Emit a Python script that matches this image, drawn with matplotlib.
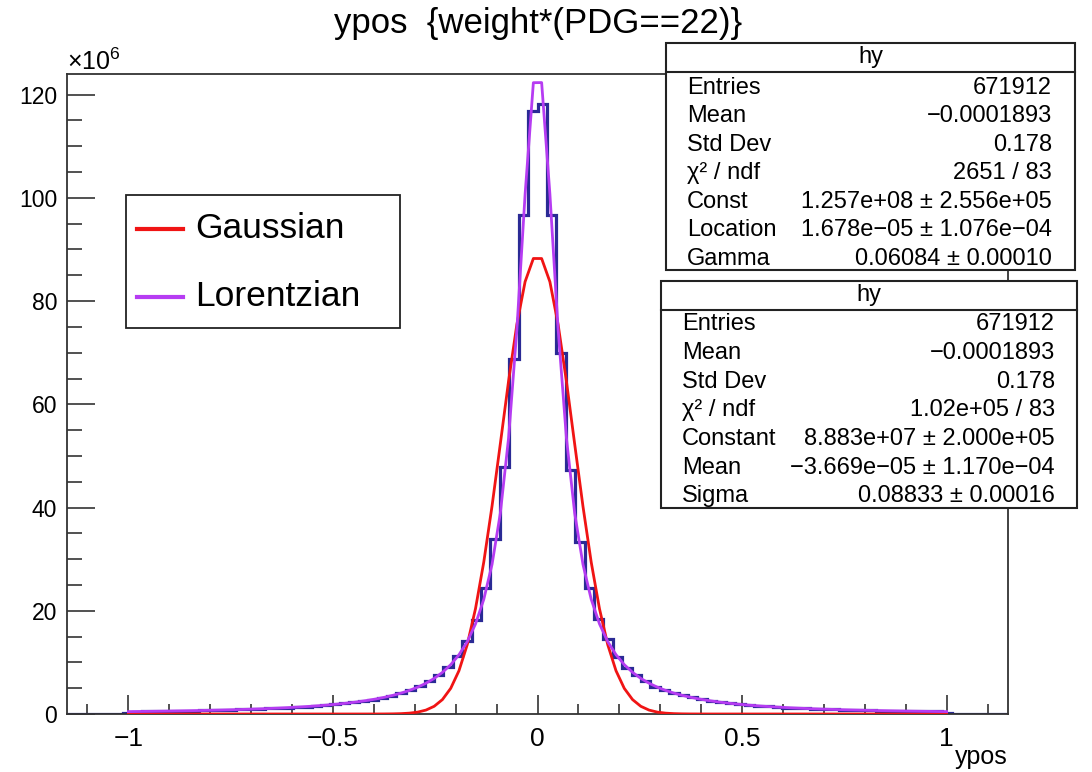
import matplotlib
matplotlib.use('Agg')
import matplotlib.pyplot as plt
from matplotlib.patches import Rectangle
from matplotlib.lines import Line2D
import numpy as np

plt.rcParams['font.family'] = ['Liberation Sans', 'DejaVu Sans']
plt.rcParams['mathtext.fontset'] = 'custom'
plt.rcParams['mathtext.rm'] = 'Liberation Sans'

# histogram: 100 bins in [-1.15, 1.15], contents in units of 1e6
xmin, xmax, nbins = -1.15, 1.15, 100
counts = [
    0, 0, 0, 0, 0, 0, 0.22,
    0.48, 0.50, 0.53, 0.56, 0.59, 0.62, 0.65, 0.69, 0.73, 0.78,
    0.83, 0.88, 0.94, 1.00, 1.07, 1.15, 1.23, 1.33, 1.44, 1.55,
    1.70, 1.85, 2.05, 2.25, 2.50, 2.80, 3.15, 3.55, 4.05, 4.60,
    5.40, 6.40, 7.50, 9.10, 11.3, 14.2, 18.2, 24.4, 33.9, 47.9,
    68.8, 96.7, 116.9,
    118.1, 96.7, 70.0, 47.3, 33.4, 24.4, 18.4, 14.6, 11.1, 8.9,
    7.6, 6.3, 5.3, 4.65, 4.1, 3.6, 3.2, 2.85, 2.55, 2.3,
    2.1, 1.9, 1.72, 1.58, 1.46, 1.35, 1.25, 1.16, 1.08, 1.01,
    0.95, 0.89, 0.84, 0.79, 0.74, 0.70, 0.66, 0.63, 0.60, 0.57,
    0.54, 0.51, 0.49,
    0.22, 0, 0, 0, 0, 0, 0,
]

# fit results (from the stats boxes)
gaus_const, gaus_mean, gaus_sigma = 8.883e7, -3.669e-05, 0.08833
lor_const, lor_loc, lor_gamma = 1.257e8, 1.678e-05, 0.06084
fit_lo, fit_hi = -1.0, 1.0

stats_lor = [("Entries", "671912"), ("Mean", "\u22120.0001893"), ("Std Dev", "0.178"),
             ("\u03c7\u00b2 / ndf", "2651 / 83"), ("Const", "1.257e+08 \u00b1 2.556e+05"),
             ("Location", "1.678e\u221205 \u00b1 1.076e\u221204"), ("Gamma", "0.06084 \u00b1 0.00010")]
stats_gaus = [("Entries", "671912"), ("Mean", "\u22120.0001893"), ("Std Dev", "0.178"),
              ("\u03c7\u00b2 / ndf", "1.02e+05 / 83"), ("Constant", "8.883e+07 \u00b1 2.000e+05"),
              ("Mean", "\u22123.669e\u221205 \u00b1 1.170e\u221204"), ("Sigma", "0.08833 \u00b1 0.00016")]

W, H = 1092, 772
fig = plt.figure(figsize=(W / 100, H / 100), dpi=100)
ax = fig.add_axes([67 / W, 1 - 714 / H, (1008 - 67) / W, (714 - 74) / H])

edges = np.linspace(xmin, xmax, nbins + 1)
ax.stairs(counts, edges, color='#2a2a95', lw=2.3, zorder=2)

xf = np.linspace(fit_lo, fit_hi, 100)
gaus = gaus_const / 1e6 * np.exp(-0.5 * ((xf - gaus_mean) / gaus_sigma) ** 2)
lor = lor_const / 1e6 * lor_gamma ** 2 / ((xf - lor_loc) ** 2 + lor_gamma ** 2)
ax.plot(xf, gaus, color='#f01414', lw=2, zorder=3)
ax.plot(xf, lor, color='#b63cf2', lw=2, zorder=4)

ax.set_xlim(xmin, xmax)
ax.set_ylim(0, 124)
ax.set_xticks([-1, -0.5, 0, 0.5, 1])
ax.set_xticklabels(['\u22121', '\u22120.5', '0', '0.5', '1'])
ax.set_xticks(np.arange(-1.1, 1.15, 0.1), minor=True)
ax.set_yticks(np.arange(0, 121, 20))
ax.set_yticks(np.arange(0, 124, 5), minor=True)
ax.tick_params(axis='both', which='both', direction='in', color='#333333', width=1.2,
               top=False, right=False)
ax.tick_params(axis='y', which='major', length=20, pad=7, labelsize=16.5)
ax.tick_params(axis='y', which='minor', length=11)
ax.tick_params(axis='x', which='major', length=14, pad=9, labelsize=19)
ax.tick_params(axis='x', which='minor', length=7)
for s in ax.spines.values():
    s.set_color('#333333')
    s.set_linewidth(1.3)

fig.text(67 / W, 1 - 62 / H, '\u00d710$^{6}$', fontsize=18, ha='left', va='center')
fig.text(1008 / W, 1 - 757 / H, 'ypos', fontsize=18, ha='right', va='center')
fig.text(538 / W, 1 - 24 / H, 'ypos  {weight*(PDG==22)}', fontsize=25, ha='center', va='center')

# legend
fig.patches.append(Rectangle((126 / W, 1 - 328 / H), (400 - 126) / W, (328 - 195) / H,
                             transform=fig.transFigure, facecolor='white',
                             edgecolor='#222222', lw=1.3, zorder=5))
for yy, col, lab in [(229, '#f01414', 'Gaussian'), (297, '#b63cf2', 'Lorentzian')]:
    fig.lines.append(Line2D([137 / W, 183 / W], [1 - yy / H, 1 - yy / H], transform=fig.transFigure,
                            color=col, lw=3, zorder=6))
    fig.text(195 / W, 1 - yy / H, lab, fontsize=25.5, ha='left', va='center', zorder=6)


def stats_box(x0, x1, y0, yh, y1, rows, ylab0, dy, xl, xr):
    fig.patches.append(Rectangle((x0 / W, 1 - y1 / H), (x1 - x0) / W, (y1 - y0) / H,
                                 transform=fig.transFigure, facecolor='white',
                                 edgecolor='#222222', lw=1.5, zorder=5))
    fig.lines.append(Line2D([x0 / W, x1 / W], [1 - yh / H, 1 - yh / H], transform=fig.transFigure,
                            color='#222222', lw=1.5, zorder=6))
    fig.text((x0 + x1) / 2 / W, 1 - (y0 + yh) / 2 / H, 'hy', fontsize=17, ha='center', va='center', zorder=6)
    for i, (lab, val) in enumerate(rows):
        yy = 1 - (ylab0 + i * dy) / H
        fig.text(xl / W, yy, lab, fontsize=17, ha='left', va='center', zorder=6)
        fig.text(xr / W, yy, val, fontsize=17, ha='right', va='center', zorder=6)


stats_box(666, 1075, 43, 72, 270, stats_lor, 87.5, 28.6, 687, 1052)
stats_box(661, 1077, 281, 310, 508, stats_gaus, 324.5, 28.6, 682, 1055)

fig.savefig('out.png', dpi=100)
